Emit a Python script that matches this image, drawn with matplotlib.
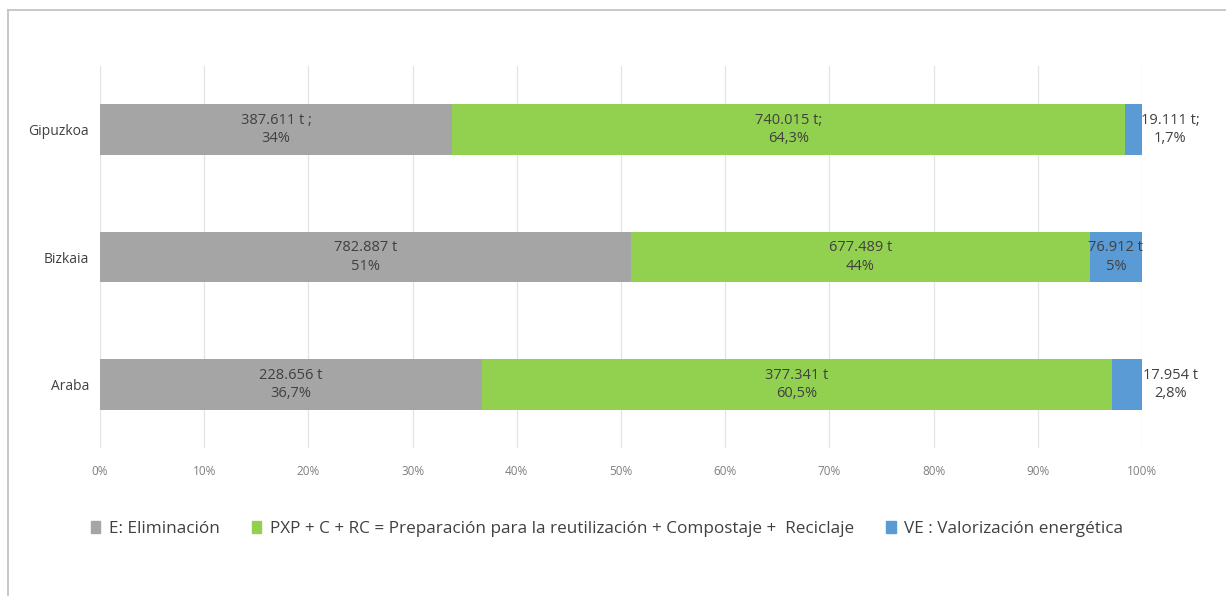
import numpy as np
import matplotlib.pyplot as plt
from matplotlib.lines import Line2D
from matplotlib.patches import Patch

plt.rcParams['font.family'] = ['Open Sans', 'DejaVu Sans']

# Data
regiones = ['Araba', 'Bizkaia', 'Gipuzkoa']
eliminacion = [228656, 782887, 387611]
reciclaje = [377341, 677489, 740015]
valorizacion = [17954, 76912, 19111]

etiq_elim = ['228.656 t\n36,7%', '782.887 t\n51%', '387.611 t ;\n34%']
etiq_rec = ['377.341 t\n60,5%', '677.489 t\n44%', '740.015 t;\n64,3%']
etiq_val = ['17.954 t\n2,8%', '76.912 t\n5%', '19.111 t;\n1,7%']

series = ['E: Eliminación',
          'PXP + C + RC = Preparación para la reutilización + Compostaje +  Reciclaje',
          'VE : Valorización energética']
colores = ['#A5A5A5', '#92D050', '#5B9BD5']

# Shares of each region total
tot = np.array(eliminacion) + np.array(reciclaje) + np.array(valorizacion)
p1 = np.array(eliminacion) / tot
p2 = np.array(reciclaje) / tot
p3 = np.array(valorizacion) / tot

fig = plt.figure(figsize=(12.26, 5.96), dpi=100)
ax = fig.add_axes([100/1226, 1 - 448/596, 1042/1226, 382/596])

y = np.arange(len(regiones))
h = 0.4
ax.barh(y, p1, h, color=colores[0], zorder=2)
ax.barh(y, p2, h, left=p1, color=colores[1], zorder=2)
ax.barh(y, p3, h, left=p1 + p2, color=colores[2], zorder=2)

txt = '#404040'
for i in range(len(regiones)):
    ax.text(p1[i] / 2, y[i], etiq_elim[i], ha='center', va='center',
            fontsize=10.5, color=txt, linespacing=1.3)
    ax.text(p1[i] + p2[i] / 2, y[i], etiq_rec[i], ha='center', va='center',
            fontsize=10.5, color=txt, linespacing=1.3)
    if p3[i] > 0.04:
        xv = p1[i] + p2[i] + p3[i] / 2
    else:
        xv = 1.027
    ax.text(xv, y[i], etiq_val[i], ha='center', va='center',
            fontsize=10.5, color=txt, linespacing=1.3)

ax.set_xlim(0, 1)
ax.set_ylim(-0.5, 2.5)
ax.set_xticks(np.arange(0, 1.01, 0.1))
ax.set_xticklabels([f'{int(round(v*100))}%' for v in np.arange(0, 1.01, 0.1)])
ax.set_yticks(y)
ax.set_yticklabels(regiones)
ax.tick_params(axis='x', length=0, labelsize=8.5, labelcolor='#7F7F7F', pad=12)
ax.tick_params(axis='y', length=0, labelsize=10, labelcolor=txt, pad=8)
ax.grid(axis='x', color='#E3E3E3', linewidth=0.9, zorder=0)
for s in ax.spines.values():
    s.set_visible(False)

handles = [Patch(color=c) for c in colores]
fig.legend(handles, series, loc='center', bbox_to_anchor=(607/1226, 1 - 529/596),
           ncol=3, frameon=False, fontsize=12.3, labelcolor=txt,
           handlelength=0.55, handleheight=0.65, handletextpad=0.5, columnspacing=1.9)

# outer frame (top and left edges only)
fig.add_artist(Line2D([8/1226, 1], [1 - 10/596, 1 - 10/596], color='#BFBFBF', lw=1.2))
fig.add_artist(Line2D([8/1226, 8/1226], [0, 1 - 10/596], color='#BFBFBF', lw=1.2))

plt.savefig('out.png', dpi=100)
